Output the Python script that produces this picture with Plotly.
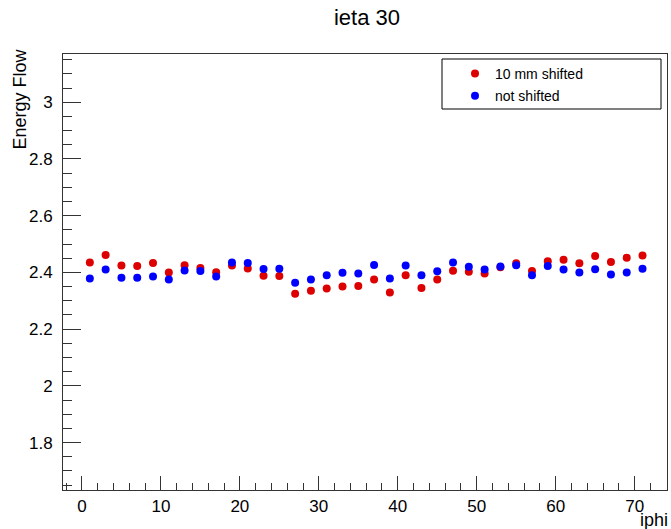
import plotly.graph_objects as go

iphi = [1, 3, 5, 7, 9, 11, 13, 15, 17, 19, 21, 23, 25, 27, 29, 31, 33, 35,
        37, 39, 41, 43, 45, 47, 49, 51, 53, 55, 57, 59, 61, 63, 65, 67, 69, 71]
shifted = [2.435, 2.461, 2.424, 2.423, 2.433, 2.400, 2.425, 2.416, 2.401, 2.424,
           2.414, 2.388, 2.387, 2.325, 2.335, 2.343, 2.350, 2.352, 2.375, 2.329,
           2.390, 2.345, 2.375, 2.406, 2.402, 2.396, 2.418, 2.432, 2.405, 2.439,
           2.445, 2.432, 2.458, 2.437, 2.452, 2.460]
not_shifted = [2.379, 2.410, 2.381, 2.381, 2.386, 2.375, 2.407, 2.405, 2.386, 2.435,
               2.433, 2.412, 2.413, 2.364, 2.375, 2.390, 2.399, 2.396, 2.426, 2.379,
               2.424, 2.390, 2.404, 2.435, 2.420, 2.410, 2.421, 2.425, 2.390, 2.423,
               2.410, 2.400, 2.411, 2.393, 2.400, 2.413]

W, H = 671, 529
L, R, T, B = 63, 4, 54, 39
pw, ph = W - L - R, H - T - B

def px(x):
    return (x - L) / pw

def py(y):
    return (H - B - y) / ph

font = "Liberation Sans, Arial, Helvetica, sans-serif"

fig = go.Figure()
fig.add_trace(go.Scatter(x=iphi, y=shifted, mode="markers", name="10 mm shifted",
                         legendgroup="a",
                         marker=dict(color="#dd0000", size=8)))
fig.add_trace(go.Scatter(x=iphi, y=not_shifted, mode="markers", name="not shifted",
                         legendgroup="b",
                         marker=dict(color="#0000ff", size=8)))

axis_common = dict(showgrid=False, zeroline=False, mirror=True, showline=True,
                   linecolor="#333333", linewidth=1, ticks="inside",
                   tickcolor="#333333", tickfont=dict(family=font, size=17, color="black"))

fig.update_layout(
    width=W, height=H,
    margin=dict(l=L, r=R, t=T, b=B),
    paper_bgcolor="white", plot_bgcolor="white",
    title=dict(text="ieta 30", x=px(367), xref="paper", xanchor="center",
               y=1 - 17 / H, yanchor="middle",
               font=dict(family=font, size=22, color="black")),
    xaxis=dict(range=[-2.4, 74.1], dtick=10, tick0=0, ticklen=14,
               ticklabelstandoff=1,
               minor=dict(dtick=2, tick0=0, ticks="inside", ticklen=7, tickcolor="#333333"),
               **axis_common),
    yaxis=dict(range=[1.633, 3.170], dtick=0.2, tick0=2.0, ticklen=18,
               ticklabelstandoff=6,
               minor=dict(dtick=0.05, tick0=2.0, ticks="inside", ticklen=9, tickcolor="#333333"),
               **axis_common),
    showlegend=True,
    legend=dict(x=px(455), y=py(58), xanchor="left", yanchor="top",
                bgcolor="rgba(0,0,0,0)", borderwidth=0, tracegroupgap=1,
                font=dict(family=font, size=14, color="black")),
    shapes=[dict(type="rect", xref="paper", yref="paper",
                 x0=px(442), x1=px(661), y0=py(109), y1=py(59),
                 line=dict(color="black", width=1), fillcolor="white", layer="below")],
    annotations=[
        dict(text="Energy Flow", textangle=-90, xref="paper", yref="paper",
             x=px(19), y=py(47), xanchor="center", yanchor="top", showarrow=False,
             font=dict(family=font, size=18, color="black")),
        dict(text="iphi", xref="paper", yref="paper",
             x=px(670), y=py(520), xanchor="right", yanchor="middle", showarrow=False,
             font=dict(family=font, size=18, color="black")),
    ],
)

fig.write_html("out.html")
